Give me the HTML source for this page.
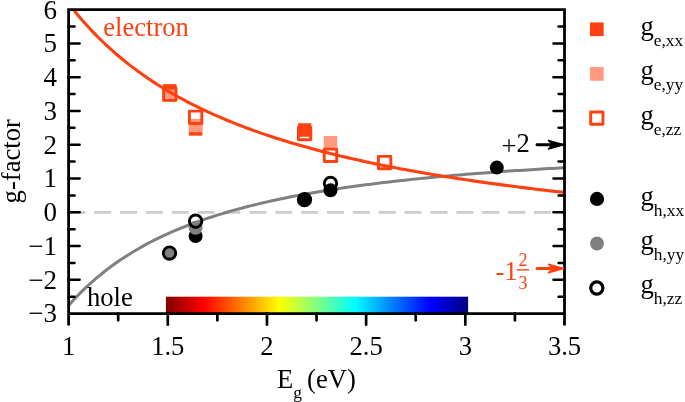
<!DOCTYPE html>
<html><head><meta charset="utf-8"><title>g-factor</title><style>html,body{margin:0;padding:0;background:#fff}</style></head><body>
<svg width="685" height="402" viewBox="0 0 685 402" style="display:block;font-family:'Liberation Serif', 'Times New Roman', serif">
<defs><linearGradient id="jet" x1="0" x2="1" y1="0" y2="0">
<stop offset="0" stop-color="#800000"/>
<stop offset="0.125" stop-color="#ff0000"/>
<stop offset="0.375" stop-color="#ffff00"/>
<stop offset="0.5" stop-color="#80ff80"/>
<stop offset="0.625" stop-color="#00ffff"/>
<stop offset="0.875" stop-color="#0000ff"/>
<stop offset="1" stop-color="#000080"/>
</linearGradient>
<clipPath id="clip"><rect x="68.6" y="9.7" width="495.9" height="303.85"/></clipPath></defs>
<rect width="685" height="402" fill="#fff"/>
<rect x="165.9" y="296.7" width="302.2" height="16.9" fill="url(#jet)"/>
<line x1="68.3" x2="564.5" y1="212.45" y2="212.45" stroke="#cccccc" stroke-width="2.7" stroke-dasharray="17 8.87"/>
<g clip-path="url(#clip)" fill="none" stroke-width="3.0" stroke-linecap="round" stroke-linejoin="round">
<path d="M67.02,307.35 L70.61,303.25 L74.21,299.31 L77.80,295.53 L81.40,291.89 L84.99,288.39 L88.59,285.02 L92.18,281.77 L95.78,278.64 L99.38,275.62 L102.97,272.71 L106.57,269.90 L110.16,267.18 L113.76,264.56 L117.35,262.02 L120.95,259.57 L124.54,257.20 L128.14,254.90 L131.73,252.68 L135.33,250.52 L138.93,248.43 L142.52,246.41 L146.12,244.44 L149.71,242.54 L153.31,240.69 L156.90,238.90 L160.50,237.15 L164.09,235.46 L167.69,233.82 L171.28,232.22 L174.88,230.66 L178.48,229.15 L182.07,227.68 L185.67,226.25 L189.26,224.86 L192.86,223.50 L196.45,222.18 L200.05,220.89 L203.64,219.64 L207.24,218.41 L210.83,217.22 L214.43,216.06 L218.03,214.93 L221.62,213.82 L225.22,212.74 L228.81,211.69 L232.41,210.66 L236.00,209.66 L239.60,208.68 L243.19,207.72 L246.79,206.78 L250.38,205.87 L253.98,204.97 L257.58,204.10 L261.17,203.25 L264.77,202.41 L268.36,201.59 L271.96,200.79 L275.55,200.01 L279.15,199.25 L282.74,198.50 L286.34,197.76 L289.93,197.05 L293.53,196.34 L297.13,195.65 L300.72,194.98 L304.32,194.32 L307.91,193.67 L311.51,193.04 L315.10,192.42 L318.70,191.81 L322.29,191.21 L325.89,190.62 L329.48,190.05 L333.08,189.48 L336.67,188.93 L340.27,188.39 L343.87,187.85 L347.46,187.33 L351.06,186.82 L354.65,186.32 L358.25,185.82 L361.84,185.34 L365.44,184.86 L369.03,184.39 L372.63,183.93 L376.22,183.48 L379.82,183.04 L383.42,182.60 L387.01,182.17 L390.61,181.75 L394.20,181.34 L397.80,180.93 L401.39,180.53 L404.99,180.14 L408.58,179.75 L412.18,179.37 L415.77,179.00 L419.37,178.63 L422.97,178.27 L426.56,177.92 L430.16,177.57 L433.75,177.22 L437.35,176.88 L440.94,176.55 L444.54,176.22 L448.13,175.90 L451.73,175.58 L455.32,175.27 L458.92,174.96 L462.52,174.66 L466.11,174.36 L469.71,174.07 L473.30,173.78 L476.90,173.49 L480.49,173.21 L484.09,172.94 L487.68,172.66 L491.28,172.39 L494.87,172.13 L498.47,171.87 L502.07,171.61 L505.66,171.36 L509.26,171.11 L512.85,170.86 L516.45,170.62 L520.04,170.38 L523.64,170.15 L527.23,169.92 L530.83,169.69 L534.42,169.46 L538.02,169.24 L541.62,169.02 L545.21,168.80 L548.81,168.59 L552.40,168.38 L556.00,168.17 L559.59,167.96 L563.19,167.76 L566.78,167.56" stroke="#808080"/>
</g>
<circle cx="169.5" cy="253.1" r="7.0" fill="#000"/>
<circle cx="169.5" cy="253.1" r="7.0" fill="#808080"/>
<circle cx="169.5" cy="253.1" r="6.2" fill="none" stroke="#000" stroke-width="2.9"/>
<circle cx="195.6" cy="236" r="7.0" fill="#000"/>
<circle cx="195.6" cy="227.8" r="7.0" fill="#808080"/>
<circle cx="195.6" cy="221.2" r="6.2" fill="none" stroke="#000" stroke-width="2.9"/>
<circle cx="304.5" cy="199.7" r="7.6" fill="#000"/>
<circle cx="330.5" cy="183.4" r="6.2" fill="none" stroke="#000" stroke-width="2.9"/>
<circle cx="330.5" cy="190.3" r="7.0" fill="#000"/>
<circle cx="496.8" cy="167.6" r="7.0" fill="#000"/>
<rect x="163.05" y="84.15" width="13.5" height="13.5" fill="#ff4010"/>
<rect x="163.05" y="87.85" width="13.5" height="13.5" fill="#ff9a80"/>
<rect x="188.85" y="122.15" width="13.5" height="13.5" fill="#ff4010"/>
<rect x="188.85" y="118.75" width="13.5" height="13.5" fill="#ff9a80"/>
<rect x="297.85" y="123.25" width="13.5" height="13.5" fill="#ff4010"/>
<rect x="323.75" y="135.95" width="13.5" height="13.5" fill="#ff9a80"/>
<g clip-path="url(#clip)" fill="none" stroke-width="3.1" stroke-linecap="round" stroke-linejoin="round">
<path d="M67.02,1.28 L70.61,5.99 L74.21,10.55 L77.80,14.94 L81.40,19.19 L84.99,23.30 L88.59,27.28 L92.18,31.13 L95.78,34.86 L99.38,38.48 L102.97,41.99 L106.57,45.39 L110.16,48.69 L113.76,51.90 L117.35,55.01 L120.95,58.04 L124.54,60.98 L128.14,63.84 L131.73,66.62 L135.33,69.34 L138.93,71.97 L142.52,74.54 L146.12,77.05 L149.71,79.49 L153.31,81.87 L156.90,84.19 L160.50,86.45 L164.09,88.66 L167.69,90.82 L171.28,92.93 L174.88,94.99 L178.48,97.00 L182.07,98.96 L185.67,100.88 L189.26,102.76 L192.86,104.59 L196.45,106.39 L200.05,108.15 L203.64,109.87 L207.24,111.55 L210.83,113.20 L214.43,114.82 L218.03,116.40 L221.62,117.95 L225.22,119.47 L228.81,120.96 L232.41,122.41 L236.00,123.85 L239.60,125.25 L243.19,126.63 L246.79,127.98 L250.38,129.30 L253.98,130.60 L257.58,131.88 L261.17,133.14 L264.77,134.37 L268.36,135.58 L271.96,136.77 L275.55,137.93 L279.15,139.08 L282.74,140.21 L286.34,141.31 L289.93,142.40 L293.53,143.47 L297.13,144.53 L300.72,145.56 L304.32,146.58 L307.91,147.58 L311.51,148.57 L315.10,149.54 L318.70,150.49 L322.29,151.43 L325.89,152.36 L329.48,153.27 L333.08,154.17 L336.67,155.05 L340.27,155.92 L343.87,156.77 L347.46,157.62 L351.06,158.45 L354.65,159.27 L358.25,160.07 L361.84,160.87 L365.44,161.65 L369.03,162.43 L372.63,163.19 L376.22,163.94 L379.82,164.68 L383.42,165.41 L387.01,166.13 L390.61,166.84 L394.20,167.54 L397.80,168.23 L401.39,168.91 L404.99,169.59 L408.58,170.25 L412.18,170.90 L415.77,171.55 L419.37,172.19 L422.97,172.82 L426.56,173.44 L430.16,174.05 L433.75,174.66 L437.35,175.26 L440.94,175.85 L444.54,176.43 L448.13,177.01 L451.73,177.58 L455.32,178.14 L458.92,178.70 L462.52,179.25 L466.11,179.79 L469.71,180.32 L473.30,180.85 L476.90,181.38 L480.49,181.89 L484.09,182.40 L487.68,182.91 L491.28,183.41 L494.87,183.90 L498.47,184.39 L502.07,184.87 L505.66,185.35 L509.26,185.82 L512.85,186.29 L516.45,186.75 L520.04,187.21 L523.64,187.66 L527.23,188.10 L530.83,188.55 L534.42,188.98 L538.02,189.42 L541.62,189.84 L545.21,190.27 L548.81,190.68 L552.40,191.10 L556.00,191.51 L559.59,191.91 L563.19,192.32 L566.78,192.71" stroke="#ff4010"/>
</g>
<rect x="163.60" y="88.00" width="12.4" height="12.4" fill="none" stroke="#ff4010" stroke-width="2.9" stroke-linejoin="round"/>
<rect x="189.40" y="111.10" width="12.4" height="12.4" fill="none" stroke="#ff4010" stroke-width="2.9" stroke-linejoin="round"/>
<rect x="298.40" y="127.40" width="12.4" height="12.4" fill="none" stroke="#ff4010" stroke-width="2.9" stroke-linejoin="round"/>
<rect x="324.30" y="149.10" width="12.4" height="12.4" fill="none" stroke="#ff4010" stroke-width="2.9" stroke-linejoin="round"/>
<rect x="378.40" y="156.40" width="12.4" height="12.4" fill="none" stroke="#ff4010" stroke-width="2.9" stroke-linejoin="round"/>
<g stroke="#000" stroke-width="2.8" fill="none" stroke-linecap="round" stroke-linejoin="miter">
<path d="M68.6,324.45 V9.7 H564.5 V324.45 M68.6,313.55 H564.5"/>
</g>
<g stroke="#000" stroke-width="2.5" stroke-linecap="round">
<line x1="68.6" x2="74.5" y1="296.67" y2="296.67"/>
<line x1="564.5" x2="558.6" y1="296.67" y2="296.67"/>
<line x1="68.6" x2="79.6" y1="279.79" y2="279.79"/>
<line x1="564.5" x2="553.5" y1="279.79" y2="279.79"/>
<line x1="68.6" x2="74.5" y1="262.91" y2="262.91"/>
<line x1="564.5" x2="558.6" y1="262.91" y2="262.91"/>
<line x1="68.6" x2="79.6" y1="246.03" y2="246.03"/>
<line x1="564.5" x2="553.5" y1="246.03" y2="246.03"/>
<line x1="68.6" x2="74.5" y1="229.15" y2="229.15"/>
<line x1="564.5" x2="558.6" y1="229.15" y2="229.15"/>
<line x1="68.6" x2="79.6" y1="212.27" y2="212.27"/>
<line x1="564.5" x2="553.5" y1="212.27" y2="212.27"/>
<line x1="68.6" x2="74.5" y1="195.39" y2="195.39"/>
<line x1="564.5" x2="558.6" y1="195.39" y2="195.39"/>
<line x1="68.6" x2="79.6" y1="178.51" y2="178.51"/>
<line x1="564.5" x2="553.5" y1="178.51" y2="178.51"/>
<line x1="68.6" x2="74.5" y1="161.62" y2="161.62"/>
<line x1="564.5" x2="558.6" y1="161.62" y2="161.62"/>
<line x1="68.6" x2="79.6" y1="144.74" y2="144.74"/>
<line x1="564.5" x2="553.5" y1="144.74" y2="144.74"/>
<line x1="68.6" x2="74.5" y1="127.86" y2="127.86"/>
<line x1="564.5" x2="558.6" y1="127.86" y2="127.86"/>
<line x1="68.6" x2="79.6" y1="110.98" y2="110.98"/>
<line x1="564.5" x2="553.5" y1="110.98" y2="110.98"/>
<line x1="68.6" x2="74.5" y1="94.10" y2="94.10"/>
<line x1="564.5" x2="558.6" y1="94.10" y2="94.10"/>
<line x1="68.6" x2="79.6" y1="77.22" y2="77.22"/>
<line x1="564.5" x2="553.5" y1="77.22" y2="77.22"/>
<line x1="68.6" x2="74.5" y1="60.34" y2="60.34"/>
<line x1="564.5" x2="558.6" y1="60.34" y2="60.34"/>
<line x1="68.6" x2="79.6" y1="43.46" y2="43.46"/>
<line x1="564.5" x2="553.5" y1="43.46" y2="43.46"/>
<line x1="68.6" x2="74.5" y1="26.58" y2="26.58"/>
<line x1="564.5" x2="558.6" y1="26.58" y2="26.58"/>
<line x1="118.19" x2="118.19" y1="313.55" y2="320.35" stroke-width="2.7"/>
<line x1="167.78" x2="167.78" y1="313.55" y2="324.75" stroke-width="2.7"/>
<line x1="217.37" x2="217.37" y1="313.55" y2="320.35" stroke-width="2.7"/>
<line x1="266.96" x2="266.96" y1="313.55" y2="324.75" stroke-width="2.7"/>
<line x1="316.55" x2="316.55" y1="313.55" y2="320.35" stroke-width="2.7"/>
<line x1="366.14" x2="366.14" y1="313.55" y2="324.75" stroke-width="2.7"/>
<line x1="415.73" x2="415.73" y1="313.55" y2="320.35" stroke-width="2.7"/>
<line x1="465.32" x2="465.32" y1="313.55" y2="324.75" stroke-width="2.7"/>
<line x1="514.91" x2="514.91" y1="313.55" y2="320.35" stroke-width="2.7"/>
</g>
<g font-size="26.6" fill="#000">
<text x="56.9" y="322.4" text-anchor="end" font-size="27">−3</text>
<text x="56.9" y="288.6" text-anchor="end" font-size="27">−2</text>
<text x="56.9" y="254.8" text-anchor="end" font-size="27">−1</text>
<text x="56.9" y="221.1" text-anchor="end" font-size="27">0</text>
<text x="56.9" y="187.3" text-anchor="end" font-size="27">1</text>
<text x="56.9" y="153.5" text-anchor="end" font-size="27">2</text>
<text x="56.9" y="119.8" text-anchor="end" font-size="27">3</text>
<text x="56.9" y="86.0" text-anchor="end" font-size="27">4</text>
<text x="56.9" y="52.3" text-anchor="end" font-size="27">5</text>
<text x="56.9" y="18.5" text-anchor="end" font-size="27">6</text>
<text x="68.6" y="354.6" text-anchor="middle">1</text>
<text x="167.8" y="354.6" text-anchor="middle">1.5</text>
<text x="267.0" y="354.6" text-anchor="middle">2</text>
<text x="366.1" y="354.6" text-anchor="middle">2.5</text>
<text x="465.3" y="354.6" text-anchor="middle">3</text>
<text x="564.5" y="354.6" text-anchor="middle">3.5</text>
<text transform="translate(19.5,161.3) rotate(-90)" text-anchor="middle">g-factor</text>
<text x="277" y="387.9">E<tspan font-size="17.4" dy="9.7">g</tspan><tspan dy="-9.7" dx="-1.5"> (eV)</tspan></text>
<text x="103.2" y="36.3" fill="#ff4010">electron</text>
<text x="87" y="306">hole</text>
<text x="501.5" y="152"><tspan dy="2.8">+</tspan><tspan dy="-2.8">2</tspan></text>
<text x="640.5" y="34.6">g<tspan font-size="17.4" dy="11.1">e,xx</tspan></text>
<text x="640.5" y="79.2">g<tspan font-size="17.4" dy="11.1">e,yy</tspan></text>
<text x="640.5" y="123.6">g<tspan font-size="17.4" dy="11.1">e,zz</tspan></text>
<text x="640.5" y="204.5">g<tspan font-size="17.4" dy="11.1">h,xx</tspan></text>
<text x="640.5" y="249.1">g<tspan font-size="17.4" dy="11.1">h,yy</tspan></text>
<text x="640.5" y="293.3">g<tspan font-size="17.4" dy="11.1">h,zz</tspan></text>
</g>
<g fill="#ff4010"><text x="495.5" y="279.7" font-size="26.6">-1</text>
<text x="523" y="266" font-size="18" text-anchor="middle">2</text><text x="523" y="288.5" font-size="18" text-anchor="middle">3</text>
<rect x="516.7" y="269.2" width="12.4" height="1.4"/></g>
<line x1="537" x2="553" y1="144.74" y2="144.74" stroke="#000" stroke-width="2.9" stroke-linecap="round"/>
<path d="M563.6,144.74 L548.4,140.44 L552.6,144.74 L548.4,149.04 Z" fill="#000" stroke="#000" stroke-width="1.4" stroke-linejoin="round"/>
<line x1="537" x2="553" y1="268.54" y2="268.54" stroke="#ff4010" stroke-width="2.9" stroke-linecap="round"/>
<path d="M563.6,268.54 L548.4,264.24 L552.6,268.54 L548.4,272.84 Z" fill="#ff4010" stroke="#ff4010" stroke-width="1.4" stroke-linejoin="round"/>
<rect x="589.95" y="22.45" width="13.7" height="13.7" fill="#ff4010"/>
<rect x="589.95" y="67.05" width="13.7" height="13.7" fill="#ff9a80"/>
<rect x="590.65" y="111.95" width="12.3" height="12.3" fill="none" stroke="#ff4010" stroke-width="2.9" stroke-linejoin="round"/>
<circle cx="597" cy="198.9" r="7.1" fill="#000"/>
<circle cx="597" cy="243.5" r="6.9" fill="#808080"/>
<circle cx="596.8" cy="288.0" r="6.05" fill="none" stroke="#000" stroke-width="3.2"/>
</svg>
</body></html>
